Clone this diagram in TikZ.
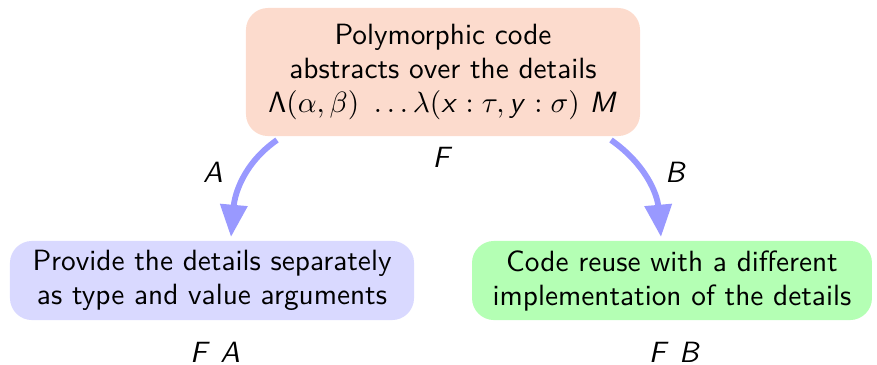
\documentclass[tikz,border=0pt]{standalone}
\usetikzlibrary{arrows.meta}
\renewcommand{\familydefault}{\sfdefault}
\DeclareMathAlphabet{\mathsfit}{OT1}{cmss}{m}{sl}
\definecolor{peach}{RGB}{252,219,205}
\definecolor{lav}{RGB}{217,217,255}
\definecolor{mint}{RGB}{180,255,180}
\definecolor{arr}{RGB}{153,153,255}
\begin{document}
\begin{tikzpicture}[x=0.3413pt,y=-0.3413pt,
  box/.style={rounded corners=7.5pt,align=center,inner sep=0pt,font=\fontsize{10}{11.6}\selectfont},
  lbl/.style={inner sep=0pt,font=\fontsize{10}{12}\selectfont},
  flowarrow/.style={draw=arr,line width=2pt,-{Triangle[length=11pt,width=9pt]}}]
\useasboundingbox (0,0) rectangle (877,364);
\node[box,fill=peach,minimum width=134.5pt,minimum height=43.7pt] (top) at (443,72)
  {Polymorphic code\\abstracts over the details\\
   $\mathsf{\Lambda}(\alpha,\beta)\ \ldots\lambda(\mathsfit{x}:\tau,\mathsfit{y}:\sigma)\ \mathsfit{M}$};
\node[box,fill=lav,minimum width=137.9pt,minimum height=27pt] (left) at (212,280.5)
  {Provide the details separately\\as type and value arguments};
\node[box,fill=mint,minimum width=136.5pt,minimum height=27pt] (right) at (672,280.5)
  {Code reuse with a different\\implementation of the details};
\coordinate (ls) at (277,140);
\coordinate (le) at (231,237);
\coordinate (rs) at (611,140);
\coordinate (re) at (661,237);
\draw[flowarrow] (ls) to[out=215,in=85] (le);
\draw[flowarrow] (rs) to[out=-35,in=95] (re);
\node[lbl] (la) at (213,172) {$\mathsfit{A}$};
\node[lbl] (lb) at (676,172) {$\mathsfit{B}$};
\node[lbl] (lf) at (443,157) {$\mathsfit{F}$};
\node[lbl] (lfa) at (215,352) {$\mathsfit{F}\ \mathsfit{A}$};
\node[lbl] (lfb) at (675,352) {$\mathsfit{F}\ \mathsfit{B}$};
\end{tikzpicture}
\end{document}
